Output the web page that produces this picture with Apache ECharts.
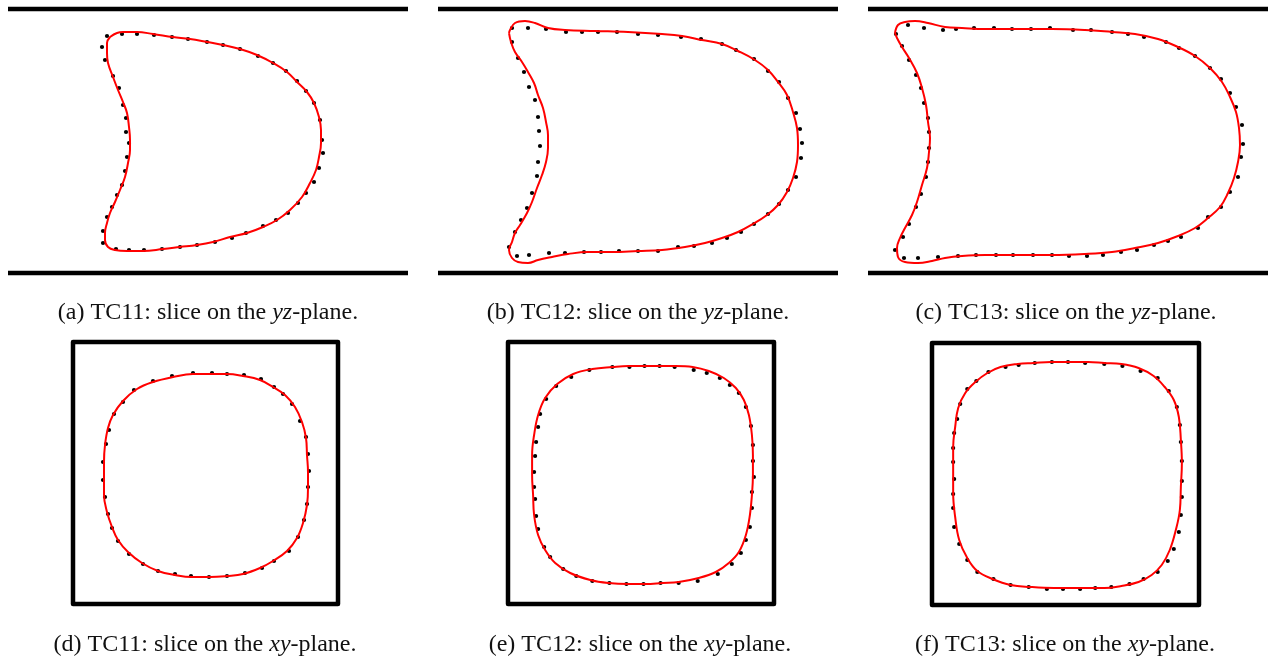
<!DOCTYPE html>
<html><head><meta charset="utf-8">
<script src="https://cdn.jsdelivr.net/npm/echarts@6/dist/echarts.min.js"></script>
<style>html,body{margin:0;padding:0;background:#fff}#c{width:1273px;height:662px}</style>
</head><body><div id="c"></div>
<script>
// ---- Panel (a) TC11 yz-plane (local units, y measured downward from top wall)
const aCurve = [[102,28],[109,24],[115,23],[129,23],[145,25],[165,28],[182,30],[199,33],[215,36],[232,40],[249,46],[265,54],[279,63],[289,73],[299,83],[306,94],[311,108],[313,121],[313,134],[311,148],[308,161],[302,174],[294,188],[282,201],[269,211],[255,218],[239,224],[222,228],[205,233],[189,236],[172,238],[155,240],[135,242],[119,242],[107,241],[100,238],[97,231],[97,224],[99,214],[102,204],[107,193],[112,181],[117,168],[120,154],[122,141],[122,131],[121,118],[119,104],[115,93],[110,81],[105,68],[100,54],[99,44],[99,34],[102,28]];
const aDots = [[99,27],[114,25],[129,25],[146,26],[164,28],[180,30],[199,33],[215,36],[232,40],[250,47],[265,54],[278,62],[289,72],[298,82],[306,94],[312,111],[314,131],[315,144],[311,159],[306,173],[298,184],[290,194],[280,204],[268,211],[255,217],[238,224],[224,229],[207,233],[189,236],[172,238],[154,240],[136,241],[121,241],[108,240],[95,234],[95,222],[99,208],[104,198],[109,186],[114,176],[117,162],[119,148],[121,134],[118,123],[118,109],[115,96],[111,79],[105,67],[97,51],[94,38]];
// ---- Panel (b) TC12 yz-plane
const bCurve = [[71,24],[72,21],[77,14],[87,12],[97,14],[110,19],[127,21],[157,22],[190,23],[224,25],[244,27],[264,31],[284,35],[300,42],[317,51],[330,61],[340,73],[349,86],[355,103],[359,119],[360,136],[359,153],[355,169],[349,183],[340,196],[329,206],[315,215],[300,223],[284,229],[267,234],[247,238],[224,241],[200,242],[174,243],[150,243],[130,245],[114,248],[100,251],[90,254],[80,253],[74,249],[71,241],[74,233],[77,224],[82,216],[89,204],[94,193],[99,179],[104,166],[108,153],[110,139],[110,126],[108,113],[105,99],[100,86],[96,74],[90,63],[84,53],[77,43],[73,33],[71,24]];
const bDots = [[74,19],[90,19],[108,20],[128,23],[144,23],[160,23],[179,23],[200,25],[220,26],[243,28],[263,30],[284,35],[298,41],[316,50],[330,62],[341,73],[350,89],[358,104],[362,120],[364,134],[363,149],[358,168],[350,181],[341,195],[330,205],[316,215],[303,223],[289,229],[274,234],[256,237],[240,238],[220,242],[200,242],[181,242],[163,243],[146,243],[127,244],[111,244],[91,246],[79,247],[71,238],[77,223],[83,211],[89,199],[94,184],[99,167],[100,153],[102,137],[101,122],[100,108],[97,91],[91,78],[86,63],[80,49],[74,33]];
// ---- Panel (c) TC13 yz-plane
const cCurve = [[27,24],[30,16],[37,13],[47,12],[60,14],[77,18],[94,19],[117,20],[150,20],[184,20],[217,21],[244,23],[267,25],[290,30],[310,38],[327,47],[342,59],[354,73],[362,88],[368,103],[371,119],[372,136],[370,153],[366,169],[360,184],[352,198],[340,209],[327,219],[310,227],[290,234],[267,239],[244,243],[217,245],[184,246],[150,246],[117,246],[94,247],[77,249],[64,252],[50,254],[37,253],[30,248],[29,239],[32,229],[37,219],[44,206],[49,193],[54,176],[59,159],[61,143],[62,129],[60,113],[58,96],[54,79],[49,64],[41,49],[34,38],[29,29],[27,24]];
const cDots = [[28,25],[40,16],[56,19],[75,21],[88,20],[106,19],[126,19],[144,20],[163,20],[182,19],[205,21],[223,21],[244,23],[260,25],[276,28],[298,33],[311,39],[327,47],[342,59],[353,70],[362,84],[368,98],[374,116],[375,135],[373,148],[370,168],[362,183],[353,198],[340,208],[330,219],[313,228],[300,232],[286,236],[269,241],[253,243],[235,246],[219,247],[201,247],[184,246],[165,246],[145,246],[128,246],[108,246],[90,247],[70,248],[50,249],[36,249],[27,241],[35,228],[41,215],[48,198],[53,185],[58,168],[60,153],[61,139],[61,123],[60,109],[56,94],[53,79],[48,66],[41,51],[34,37]];
// ---- Panel (d) TC11 xy-plane (local units inside the square duct)
const dCurve = [[137,32],[120,32],[100,35],[80,40],[64,47],[50,59],[40,73],[35,86],[32,103],[31,120],[31,136],[31,153],[34,170],[39,185],[45,198],[55,210],[69,221],[85,229],[102,233],[119,235],[137,235],[154,234],[170,232],[187,226],[200,219],[214,209],[224,196],[230,181],[234,163],[235,146],[235,130],[234,113],[233,96],[229,80],[222,65],[212,53],[200,45],[187,38],[170,34],[154,32],[137,32]];
const dDots = [[120,31],[139,31],[154,32],[171,33],[188,37],[201,45],[210,52],[219,62],[227,79],[233,95],[235,112],[236,129],[235,145],[234,162],[231,178],[225,195],[216,209],[201,219],[189,226],[172,231],[154,234],[136,235],[118,234],[102,232],[85,229],[70,222],[56,212],[45,199],[39,186],[35,172],[32,155],[30,138],[30,120],[33,102],[36,88],[41,72],[50,60],[61,48],[80,39],[99,34]];
// ---- Panel (e) TC12 xy-plane
const eCurve = [[135,24],[120,24],[104,25],[84,27],[65,32],[49,42],[37,56],[30,73],[26,93],[24,113],[24,133],[25,153],[26,173],[30,193],[37,208],[47,221],[62,231],[82,238],[100,241],[120,242],[137,242],[154,241],[170,240],[190,236],[207,230],[220,221],[230,210],[237,193],[241,173],[243,153],[244,133],[244,113],[243,93],[240,73],[235,58],[227,46],[215,36],[200,29],[184,25],[167,24],[150,24],[135,24]];
const eDots = [[104,25],[121,25],[136,24],[151,24],[166,25],[185,28],[198,31],[211,36],[221,43],[230,51],[237,65],[242,84],[244,103],[244,119],[245,135],[243,150],[243,166],[241,185],[237,198],[232,211],[223,222],[209,232],[189,239],[170,241],[152,241],[135,242],[118,242],[101,241],[84,239],[68,234],[55,227],[42,215],[36,205],[30,187],[28,174],[27,157],[26,145],[26,130],[27,114],[28,100],[30,85],[32,72],[38,57],[48,44],[63,35],[81,28]];
// ---- Panel (f) TC13 xy-plane
const fCurve = [[135,19],[118,19],[101,20],[85,21],[68,24],[55,30],[43,39],[33,50],[26,65],[23,84],[21,104],[21,127],[21,150],[23,174],[27,197],[35,215],[45,228],[60,236],[78,242],[98,244],[121,245],[138,245],[155,245],[171,245],[188,243],[205,239],[218,232],[228,222],[236,207],[242,187],[246,167],[247,144],[248,120],[247,97],[245,74],[240,57],[231,44],[220,33],[205,25],[188,21],[171,20],[155,19],[135,19]];
const fDots = [[102,20],[119,19],[135,19],[152,20],[171,21],[189,23],[207,28],[224,35],[235,48],[243,64],[246,82],[247,99],[248,118],[248,138],[248,154],[247,172],[245,189],[240,206],[234,218],[224,229],[210,236],[196,241],[178,244],[162,245],[147,246],[130,246],[114,246],[96,244],[78,242],[61,236],[45,229],[35,217],[27,201],[22,184],[21,165],[21,151],[22,136],[21,119],[21,105],[22,90],[25,76],[28,61],[35,46],[44,38],[56,29],[73,24],[86,22]];
// ---- Walls / duct boundaries
const topWallUpper = [[0,0],[400,0]];
const topWallLower = [[0,264],[400,264]];
const ductBox = [[130,0],[265,0],[265,262],[0,262],[0,0],[130,0]];
// ---- Captions
const captions = [
  '(a) TC11: slice on the {i|yz}-plane.', '(b) TC12: slice on the {i|yz}-plane.', '(c) TC13: slice on the {i|yz}-plane.',
  '(d) TC11: slice on the {i|xy}-plane.', '(e) TC12: slice on the {i|xy}-plane.', '(f) TC13: slice on the {i|xy}-plane.'
];

const panels = [
  {curve:aCurve, dots:aDots, kind:'wall', left:8, top:9, w:400, h:264, cx:208, cy:313},
  {curve:bCurve, dots:bDots, kind:'wall', left:438, top:9, w:400, h:264, cx:638, cy:313},
  {curve:cCurve, dots:cDots, kind:'wall', left:868, top:9, w:400, h:264, cx:1066, cy:313},
  {curve:dCurve, dots:dDots, kind:'box', left:73, top:342, w:265, h:262, cx:205, cy:645},
  {curve:eCurve, dots:eDots, kind:'box', left:508, top:342, w:266, h:262, cx:640, cy:645},
  {curve:fCurve, dots:fDots, kind:'box', left:932, top:343, w:267, h:262, cx:1065, cy:645}
];

const FS = 24;
const grid=[], xAxis=[], yAxis=[], series=[], graphic=[];
panels.forEach((p,i)=>{
  grid.push({left:p.left, top:p.top, width:p.w, height:p.h, containLabel:false});
  const xmax = p.kind==='wall'?400:265, ymax = p.kind==='wall'?264:262;
  xAxis.push({type:'value', gridIndex:i, min:0, max:xmax, show:false});
  yAxis.push({type:'value', gridIndex:i, min:0, max:ymax, inverse:true, show:false});
  const blk = {type:'line', xAxisIndex:i, yAxisIndex:i, showSymbol:false, clip:false, silent:true,
    lineStyle:{color:'#000', width:4.5, join:'round'}};
  if (p.kind==='wall') {
    series.push(Object.assign({}, blk, {data:topWallUpper}));
    series.push(Object.assign({}, blk, {data:topWallLower}));
  } else {
    series.push(Object.assign({}, blk, {data:ductBox, lineStyle:{color:'#000', width:4.5, join:'round'}}));
  }
  series.push({type:'line', xAxisIndex:i, yAxisIndex:i, data:p.curve, smooth:0.4, showSymbol:false, clip:false, silent:true,
    lineStyle:{color:'#ff0000', width:2}});
  series.push({type:'scatter', xAxisIndex:i, yAxisIndex:i, data:p.dots, symbolSize:4.2, clip:false, silent:true,
    itemStyle:{color:'#000', opacity:1}});
  graphic.push({type:'text', x:p.cx, y:p.cy, style:{text:captions[i], fill:'#111',
    fontFamily:'Liberation Serif', fontSize:FS, align:'center', verticalAlign:'middle',
    rich:{i:{fontStyle:'italic', fontFamily:'Liberation Serif', fontSize:FS}}}});
});

const chart = echarts.init(document.getElementById('c'), null, {renderer:'canvas'});
chart.setOption({animation:false, backgroundColor:'#fff', grid, xAxis, yAxis, series, graphic});
</script></body></html>
